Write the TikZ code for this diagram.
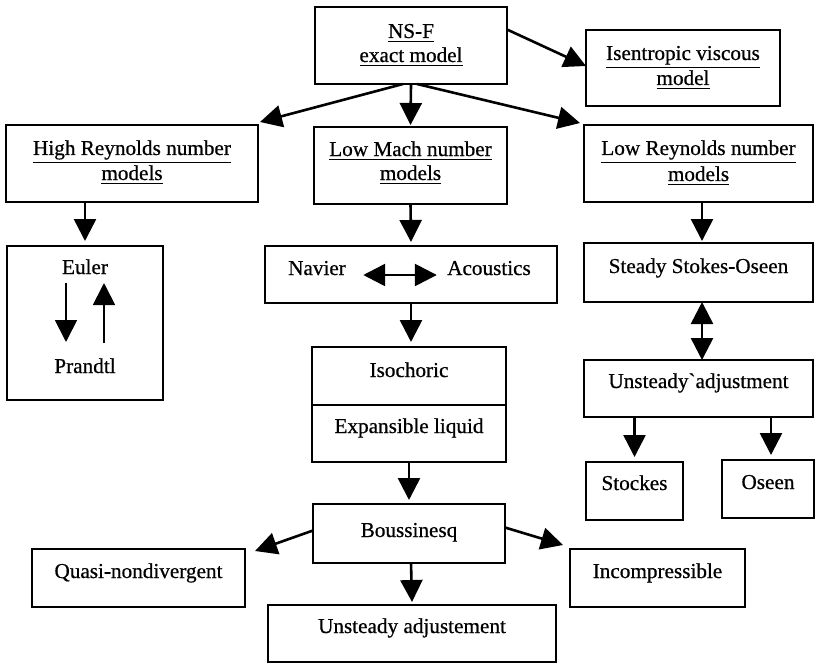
\documentclass[tikz,border=0pt]{standalone}
\usepackage{fontspec}
\setmainfont[FakeBold=0.6]{Liberation Serif}
\usetikzlibrary{arrows.meta,calc}
\begin{document}
\begin{tikzpicture}[x=0.5pt,y=-0.5pt,
  box/.style={draw,line width=1.3pt,inner sep=0pt,outer sep=0pt},
  txt/.style={font=\fontsize{10.6}{12.5}\selectfont,anchor=base,inner sep=0pt},
  arr/.style={line width=1.3pt,-{Triangle[length=11pt,width=11pt]}},
  dblarr/.style={line width=1.3pt,{Triangle[length=11pt,width=11pt]}-{Triangle[length=11pt,width=11pt]}},
  thinarr/.style={line width=0.9pt,-{Triangle[length=11pt,width=11pt]}}]
\fill[white] (0,0) rectangle (817,663);
\useasboundingbox (0,0) rectangle (817,663);

% ---- boxes ----
\node[box,minimum width=96pt,minimum height=38.5pt] (nsf) at (411,45.5) {};
\node[box,minimum width=97pt,minimum height=38pt] (isen) at (683,68) {};
\node[box,minimum width=126pt,minimum height=38.5pt] (highre) at (132,163.5) {};
\node[box,minimum width=96.5pt,minimum height=38.5pt] (lowmach) at (410.5,165.5) {};
\node[box,minimum width=114.5pt,minimum height=38.5pt] (lowre) at (698.5,163.5) {};
\node[box,minimum width=78pt,minimum height=77pt] (euler) at (85,323) {};
\node[box,minimum width=146pt,minimum height=28.5pt] (navier) at (411,274.5) {};
\node[box,minimum width=114.5pt,minimum height=29.5pt] (steady) at (698.5,272.5) {};
\node[box,minimum width=97pt,minimum height=29pt] (isoA) at (409,376) {};
\node[box,minimum width=97pt,minimum height=28.5pt] (isoB) at (409,433.5) {};
\node[box,minimum width=114.5pt,minimum height=28.5pt] (unsteady) at (698.5,388.5) {};
\node[box,minimum width=48.5pt,minimum height=29pt] (stockes) at (634.5,491) {};
\node[box,minimum width=46pt,minimum height=29pt] (oseen) at (768,489) {};
\node[box,minimum width=96pt,minimum height=29.5pt] (bouss) at (409,533.5) {};
\node[box,minimum width=106.5pt,minimum height=29pt] (quasi) at (138.5,578) {};
\node[box,minimum width=87.5pt,minimum height=29pt] (incomp) at (657.5,578) {};
\node[box,minimum width=144pt,minimum height=28.5pt] (unsteadyj) at (412,633.5) {};

% ---- labels ----
\node[txt] (nsfA) at (411,38) {\underline{NS-F}};
\node[txt] (nsfB) at (411,62) {\underline{exact model}};
\node[txt] (isenA) at (683,60) {\underline{Isentropic viscous}};
\node[txt] (isenB) at (683,85) {\underline{model}};
\node[txt] (highreA) at (132,155) {\underline{High Reynolds number}};
\node[txt] (highreB) at (132,180) {\underline{models}};
\node[txt] (lowmachA) at (410.5,156) {\underline{Low Mach number}};
\node[txt] (lowmachB) at (410.5,180) {\underline{models}};
\node[txt] (lowreA) at (698.5,155) {\underline{Low Reynolds number}};
\node[txt] (lowreB) at (698.5,181) {\underline{models}};
\node[txt] (eulerT) at (85,274) {Euler};
\node[txt] (prandtlT) at (85,373) {Prandtl};
\node[txt] (navT) at (317,275) {Navier};
\node[txt] (acoT) at (489,275) {Acoustics};
\node[txt] (steadyT) at (698.5,273) {Steady Stokes-Oseen};
\node[txt] (isoAT) at (409,377) {Isochoric};
\node[txt] (isoBT) at (409,433) {Expansible liquid};
\node[txt] (unsteadyT) at (698.5,388) {Unsteady\textasciigrave adjustment};
\node[txt] (stockesT) at (634.5,490) {Stockes};
\node[txt] (oseenT) at (768,489) {Oseen};
\node[txt] (boussT) at (409,537) {Boussinesq};
\node[txt] (quasiT) at (138.5,578) {Quasi-nondivergent};
\node[txt] (incompT) at (657.5,578) {Incompressible};
\node[txt] (unsteadyjT) at (412,633) {Unsteady adjustement};

% ---- connectors ----
\draw[arr] ($(nsf.south)+(-8,0)$) -- ($(highre.north east)+(2,-3)$);
\draw[arr] (nsf.south) -- ($(lowmach.north)+(0,-2)$);
\draw[arr] ($(nsf.south)+(6,0)$) -- ($(lowre.north west)+(-4,-2)$);
\draw[arr] ($(nsf.east)+(0,-16)$) -- ($(isen.west)+(0,-2)$);

\draw[arr] ($(highre.south)+(-47,0)$) -- ($(euler.north)+(0,-5)$);
\draw[thinarr] ($(euler.north)+(-19,37)$) -- ($(euler.north)+(-19,96)$);
\draw[thinarr] ($(euler.north)+(19,97)$) -- ($(euler.north)+(19,37)$);

\draw[arr] (lowmach.south) -- ($(navier.north)+(0,-4)$);
\draw[dblarr] ($(navT.base east)+(17,0)$) -- ($(acoT.base west)+(-10,0)$);
\draw[arr] (navier.south) -- ($(isoA.north)+(2,-5)$);
\draw[arr] (isoB.south) -- ($(bouss.north)+(0,-4)$);

\draw[arr] ($(bouss.west)+(0,-3)$) -- ($(quasi.north east)+(10,2)$);
\draw[arr] ($(bouss.east)+(0,-6)$) -- ($(incomp.north west)+(-7,-4)$);
\draw[arr] ($(bouss.south)+(2,0)$) -- ($(unsteadyj.north)+(0,-3)$);

\draw[arr] ($(lowre.south)+(3.5,0)$) -- ($(steady.north)+(3.5,-2)$);
\draw[dblarr] ($(steady.south)+(3.5,0)$) -- ($(unsteady.north)+(3.5,0)$);
\draw[arr] (unsteady.south -| stockes.north) -- ($(stockes.north)+(0,-5)$);
\draw[arr] ($(unsteady.south -| oseen.north)+(3,0)$) -- ($(oseen.north)+(3,-5)$);
\end{tikzpicture}
\end{document}
